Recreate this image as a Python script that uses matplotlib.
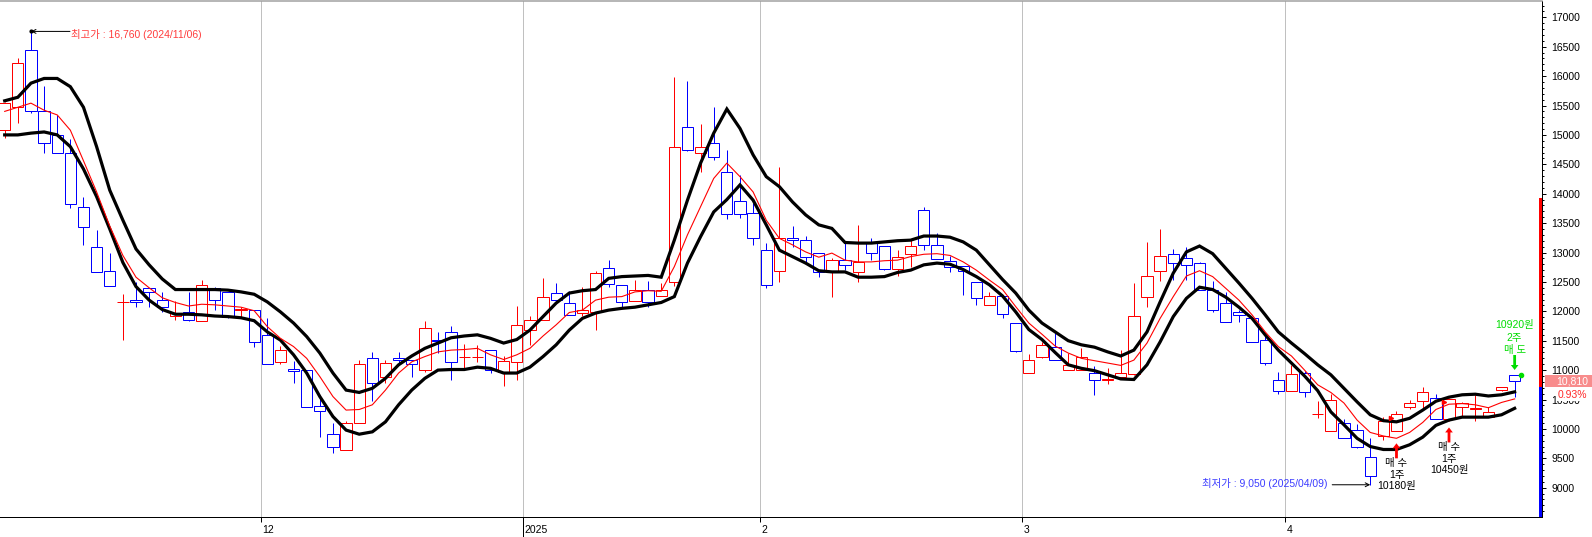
import numpy as np
import matplotlib
matplotlib.use('Agg')
import matplotlib.pyplot as plt
import matplotlib.transforms as mtransforms
from matplotlib.lines import Line2D
from matplotlib.patches import Rectangle
from matplotlib.ticker import MultipleLocator, FormatStrFormatter

plt.rcParams['font.family'] = ['Liberation Sans', 'Noto Sans CJK KR', 'DejaVu Sans']
plt.rcParams['font.size'] = 7.5

# ---------------- data (daily candles, Nov 4 2024 .. Apr 24 2025) ----------------
opens = [15080, 15470, 16440, 15400, 15000, 14700, 13780, 13090, 12690, 12150,
         12190, 12390, 12200, 11920, 11980, 11840, 12390, 12320, 12020, 12020,
         11600, 11130, 11020, 11000, 10390, 9910, 9640, 10100, 11200, 10890,
         11200, 11170, 11010, 11510, 11640, 11230, 11230, 11340, 10960, 11130,
         11690, 11850, 12310, 12140, 11970, 11980, 12730, 12440, 12180, 12370,
         12260, 12490, 15130, 14690, 14870, 14370, 13870, 13680, 13050, 12680,
         13240, 13220, 12990, 12670, 12870, 12670, 13170, 13110, 12720, 12970,
         13720, 13120, 12860, 12770, 12490, 12100, 12260, 11800, 10950, 11230,
         11390, 11010, 11010, 10950, 10840, 10880, 10930, 12240, 12690, 12980,
         12900, 12820, 12370, 12140, 11980, 11880, 11520, 10840, 10650, 10950,
         10250, 9960, 10100, 9980, 9520, 9880, 9960, 10380, 10480, 10520,
         10160, 10380, 10340, 10210, 10660, 10920]
highs = [15560, 16300, 16760, 15830, 15340, 14930, 13950, 13380, 12990, 12290,
         12500, 12390, 12320, 12180, 12320, 12540, 12420, 12320, 12080, 12030,
         11880, 11410, 11160, 11010, 10580, 10100, 10130, 11180, 11300, 11170,
         11310, 11170, 11840, 11650, 11750, 11440, 11430, 11340, 11240, 12090,
         11920, 12560, 12480, 12350, 12420, 12690, 12880, 12440, 12530, 12520,
         12480, 15990, 15920, 15190, 15480, 14740, 14320, 13840, 13170, 14450,
         13450, 13280, 12990, 12900, 13170, 13470, 13240, 13110, 13040, 13210,
         13780, 13340, 12940, 12770, 12490, 12320, 12260, 11800, 11270, 11470,
         11630, 11290, 11370, 11070, 11030, 11350, 12480, 13180, 13400, 13060,
         13090, 12840, 12520, 12320, 12030, 11890, 11580, 10960, 11090, 10990,
         10480, 10600, 10160, 10080, 9840, 10210, 10300, 10500, 10710, 10600,
         10520, 10460, 10580, 10380, 10720, 10920]
lows = [14940, 15210, 15370, 14690, 14690, 13760, 13120, 12660, 12430, 11510,
        12070, 12080, 11980, 11850, 11840, 11840, 12030, 11880, 11910, 11390,
        11100, 11100, 10780, 10380, 9860, 9590, 9640, 10100, 10480, 10780,
        11080, 10890, 10970, 11290, 10840, 11010, 11130, 10950, 10730, 10840,
        11430, 11850, 12180, 11940, 11920, 11690, 12410, 12080, 12180, 12070,
        12260, 12430, 14730, 14370, 14570, 13570, 13580, 13120, 12390, 12490,
        13100, 12840, 12590, 12250, 12700, 12500, 12870, 12700, 12600, 12750,
        13040, 12890, 12670, 12270, 12100, 12100, 11890, 11310, 10950, 11210,
        11180, 11010, 11000, 10580, 10760, 10870, 10920, 12080, 12520, 12540,
        12540, 12360, 11990, 11810, 11810, 11470, 11090, 10600, 10650, 10550,
        10180, 9960, 9840, 9670, 9050, 9810, 9960, 10330, 10360, 10160,
        10140, 10210, 10130, 10210, 10650, 10550]
closes = [15540, 16220, 15400, 14860, 14690, 13820, 13430, 12670, 12430, 12150,
          12150, 12330, 12070, 11970, 11850, 12450, 12190, 11910, 12040, 11470,
          11100, 11350, 10990, 10380, 10300, 9690, 10100, 11100, 10780, 11120,
          11170, 11100, 11710, 11490, 11130, 11230, 11230, 11000, 11160, 11760,
          11850, 12240, 12200, 11940, 12020, 12650, 12460, 12150, 12370, 12150,
          12360, 14790, 14740, 14790, 14630, 13650, 13650, 13240, 12440, 13240,
          13220, 12930, 12670, 12870, 12790, 12840, 13000, 12720, 12920, 13110,
          13120, 12890, 12760, 12690, 12220, 12260, 11950, 11330, 11170, 11430,
          11180, 11090, 11230, 10840, 10850, 10950, 11920, 12600, 12940, 12820,
          12780, 12360, 12020, 11810, 11940, 11470, 11120, 10650, 10930, 10620,
          10260, 10490, 9840, 9700, 9200, 10130, 10250, 10440, 10620, 10160,
          10510, 10440, 10350, 10290, 10710, 10810]

upper_band = [15580, 15640, 15880, 15960, 15960, 15820, 15470, 14800, 14060, 13550,
              13060, 12790, 12550, 12370, 12370, 12370, 12370, 12360, 12330, 12290,
              12160, 11990, 11800, 11570, 11290, 10950, 10660, 10620, 10690, 10860,
              11090, 11240, 11370, 11460, 11550, 11580, 11600, 11540, 11460, 11520,
              11680, 11910, 12140, 12310, 12350, 12370, 12560, 12590, 12600, 12610,
              12580, 13210, 13890, 14520, 15030, 15440, 15110, 14660, 14290, 14120,
              13860, 13640, 13470, 13410, 13170, 13160, 13160, 13180, 13200, 13210,
              13280, 13280, 13260, 13180, 13040, 12790, 12540, 12310, 12020, 11800,
              11650, 11500, 11430, 11390, 11310, 11240, 11340, 11650, 12160, 12650,
              13010, 13110, 12980, 12730, 12480, 12220, 11940, 11650, 11460, 11280,
              11090, 10920, 10690, 10460, 10240, 10140, 10120, 10180, 10320, 10470,
              10540, 10580, 10590, 10560, 10580, 10630]
mid_line = [15400, 15470, 15540, 15420, 15340, 15080, 14560, 14030, 13450, 12950,
            12580, 12400, 12230, 12150, 12090, 12120, 12110, 12090, 12070, 12010,
            11740, 11540, 11400, 11200, 10890, 10550, 10320, 10330, 10410, 10660,
            10950, 11140, 11230, 11310, 11340, 11350, 11370, 11260, 11180, 11260,
            11370, 11580, 11770, 11980, 12020, 12190, 12240, 12250, 12330, 12350,
            12340, 12760, 13300, 13780, 14260, 14520, 14290, 14030, 13550, 13240,
            13130, 13010, 12920, 12990, 12870, 12840, 12840, 12860, 12870, 12930,
            12970, 12980, 12950, 12840, 12700, 12530, 12370, 12080, 11800, 11610,
            11410, 11290, 11200, 11160, 11120, 11080, 11170, 11460, 11880, 12250,
            12600, 12690, 12590, 12390, 12190, 11940, 11650, 11400, 11240, 11000,
            10750, 10620, 10440, 10150, 9940, 9880, 9840, 9940, 10110, 10330,
            10420, 10430, 10410, 10360, 10450, 10510]
lower_band = [15000, 15000, 15030, 15050, 15000, 14800, 14420, 13950, 13400, 12830,
              12420, 12190, 12030, 11950, 11950, 11940, 11920, 11910, 11890, 11840,
              11650, 11510, 11260, 10950, 10550, 10210, 9980, 9910, 9950, 10120,
              10410, 10660, 10860, 11000, 11010, 11010, 11050, 11030, 10950, 10950,
              11050, 11230, 11430, 11680, 11880, 11970, 12020, 12050, 12070, 12110,
              12150, 12250, 12820, 13270, 13690, 13900, 14150, 13890, 13470, 13040,
              12930, 12820, 12690, 12670, 12670, 12580, 12580, 12590, 12660, 12700,
              12790, 12820, 12800, 12710, 12590, 12450, 12260, 11990, 11690, 11520,
              11300, 11090, 11030, 10990, 10920, 10850, 10840, 11090, 11480, 11910,
              12220, 12410, 12370, 12240, 12070, 11880, 11600, 11340, 11120, 10900,
              10650, 10290, 10070, 9840, 9700, 9650, 9650, 9730, 9860, 10060,
              10150, 10200, 10200, 10200, 10240, 10350]

month_labels = ['12', '2025', '2', '3', '4']
month_first_idx = [20, 40, 58, 78, 98]
year_label = '2025'

high_idx, high_val, high_date = 2, 16760, '2024/11/06'
low_idx, low_val, low_date = 104, 9050, '2025/04/09'
buy_trades = [(106, 10180, 1), (110, 10450, 1)]
sell_trades = [(115, 10920, 2)]
prev_close = 10710
last_price = 10810
upper_limit = 13920
pct_change = 0.93

# ---------------- figure ----------------
W, H = 1592, 537
PX = 0.72  # points per pixel at 100 dpi
fig = plt.figure(figsize=(W / 100, H / 100), dpi=100)
ax = fig.add_axes([0, (H - 517) / H, 1542 / W, 516 / H])

n = len(opens)
idx = np.arange(n)
X0, DX = 4.7, 13.13
ax.set_xlim(-X0 / DX, (1542 - X0) / DX)


def price_at(ypx):
    return 17000 - (ypx - 17.3) / 58.8 * 1000


ymin, ymax = price_at(517), price_at(1)
ax.set_ylim(ymin, ymax)

RED, BLUE = '#FF0000', '#0000FF'
o = np.array(opens); c = np.array(closes)
colors = [RED if cc >= oo else BLUE for oo, cc in zip(o, c)]

# month grid lines
for m in month_first_idx:
    ax.axvline(m - 0.5, color='#C0C0C0', lw=PX, zorder=1)

# candles
ax.vlines(idx, lows, highs, colors=colors, lw=PX, zorder=2)
ax.bar(idx, np.abs(c - o), bottom=np.minimum(o, c), width=0.86,
       facecolor='white', edgecolor=colors, linewidth=PX, zorder=3)

# bands and MA
ax.plot(idx, upper_band, color='black', lw=2.3, zorder=4, solid_joinstyle='miter')
ax.plot(idx, lower_band, color='black', lw=2.3, zorder=4, solid_joinstyle='miter')
ax.plot(idx, mid_line, color=RED, lw=0.8, zorder=4)

# axes styling
ax.spines['left'].set_visible(False)
ax.spines['top'].set_color('#A0A0A0')
ax.spines['top'].set_linewidth(PX * 1.5)
ax.spines['right'].set_linewidth(PX)
ax.spines['bottom'].set_linewidth(PX)

ax.set_xticks([m - 0.5 for m in month_first_idx])
ax.tick_params(axis='x', which='major', direction='out', length=5 * PX, width=PX,
               labelbottom=False)
xt = mtransforms.blended_transform_factory(ax.transData, ax.transAxes)
lab_tr = xt + mtransforms.ScaledTranslation(1.5 / 100, -12.7 / 100, fig.dpi_scale_trans)
for lab, m in zip(month_labels, month_first_idx):
    ax.text(m - 0.5, 0, lab, transform=lab_tr, ha='left', va='center',
            fontsize=7.5, clip_on=False)
    if lab == year_label:
        ax.add_line(Line2D([m - 0.5, m - 0.5], [0, -19 / 516], transform=xt,
                           color='black', lw=PX, clip_on=False))

ax.yaxis.tick_right()
ax.yaxis.set_major_locator(MultipleLocator(500))
ax.yaxis.set_minor_locator(MultipleLocator(100))
ax.yaxis.set_major_formatter(FormatStrFormatter('%d'))
ax.tick_params(axis='y', which='major', direction='out', length=4 * PX, width=PX,
               pad=5 * PX, labelsize=7.5)
ax.tick_params(axis='y', which='minor', direction='out', length=2 * PX, width=PX)

# bottom frame line of the date band
fig.add_artist(Line2D([0, 1542 / W], [(H - 536.5) / H] * 2, transform=fig.transFigure,
                      color='black', lw=PX))

# limit bar at right edge
bt = mtransforms.blended_transform_factory(ax.transAxes, ax.transData)
bw = 3.5 / 1542
ax.add_patch(Rectangle((1 - bw, prev_close), bw, upper_limit - prev_close, transform=bt,
                       fc=RED, ec='none', zorder=6))
ax.add_patch(Rectangle((1 - bw, ymin), bw, prev_close - ymin, transform=bt,
                       fc=BLUE, ec='none', zorder=6))

# current price box
yd = ax.transData.transform((0, last_price))[1]
ident = mtransforms.IdentityTransform()
fig.add_artist(Rectangle((1545, yd - 6.2), 47, 12.4, transform=ident,
                         fc='#F88C8C', ec='none', zorder=6))
fig.text(1572.5, yd, f'{last_price:,}', transform=ident, ha='center', va='center',
         color='white', fontsize=7.5, zorder=7)
fig.text(1572, yd - 13.7, f'{pct_change:.2f}%', transform=ident, ha='center', va='center',
         color='#FF2828', fontsize=7.5, zorder=7,
         bbox=dict(fc='white', ec='none', pad=0.6))

# high / low annotations
ax.annotate('', xy=(high_idx, high_val), xytext=(39 * PX, 0), textcoords='offset points',
            arrowprops=dict(arrowstyle='->', color='black', lw=PX, shrinkA=0, shrinkB=0,
                            mutation_scale=7), zorder=8)
ax.plot([high_idx], [high_val], marker='o', ms=2, color='black', zorder=8)
ax.annotate(f'최고가 : {high_val:,} ({high_date})', xy=(high_idx, high_val),
            xytext=(40 * PX, -3.4 * PX), textcoords='offset points', ha='left', va='center',
            color='#FF3C3C', fontsize=7.5, zorder=8)

ax.annotate('', xy=(low_idx, low_val), xytext=(-38 * PX, 0), textcoords='offset points',
            arrowprops=dict(arrowstyle='->', color='black', lw=PX, shrinkA=0, shrinkB=0,
                            mutation_scale=7), zorder=8)
ax.annotate(f'최저가 : {low_val:,} ({low_date})', xy=(low_idx, low_val),
            xytext=(-43 * PX, 1.5 * PX), textcoords='offset points', ha='right', va='center',
            color='#3C3CFF', fontsize=7.5, zorder=8)


def off(dy):
    return mtransforms.offset_copy(ax.transData, fig=fig, x=0, y=dy, units='dots')


arrow_style = 'simple,head_length=0.36,head_width=0.55,tail_width=0.2'

for bi, bp, qty in buy_trades:
    base = (bi, bp)
    ax.annotate('', xy=base, xycoords=off(-25), xytext=base, textcoords=off(-40),
                arrowprops=dict(arrowstyle=arrow_style, fc=RED, ec='none', shrinkA=0,
                                shrinkB=0, mutation_scale=10), zorder=8)
    for dy, s in [(-45, '매 수'), (-56.7, f'{qty}주'), (-67.2, f'{bp}원')]:
        ax.annotate(s, xy=base, xytext=(0, dy * PX), textcoords='offset points',
                    ha='center', va='center', color='black', fontsize=7.5, zorder=8,
                    annotation_clip=False)
    ax.plot([bi - 0.4], [bp], marker='>', ms=3, color=RED, zorder=8)

GREEN = '#00DD00'
for si, sp, qty in sell_trades:
    base = (si, sp)
    ax.annotate('', xy=base, xycoords=off(4.8), xytext=base, textcoords=off(19.8),
                arrowprops=dict(arrowstyle=arrow_style, fc=GREEN, ec='none', shrinkA=0,
                                shrinkB=0, mutation_scale=10), zorder=8)
    for dy, s in [(25, '매 도'), (37, f'{qty}주'), (49.5, f'{sp}원')]:
        ax.annotate(s, xy=base, xytext=(0, dy * PX), textcoords='offset points',
                    ha='center', va='center', color=GREEN, fontsize=7.5, zorder=8,
                    annotation_clip=False)
    ax.plot([si + 0.5], [sp], marker='o', ms=3, color=GREEN, zorder=8)

fig.savefig('out.png', dpi=100)
